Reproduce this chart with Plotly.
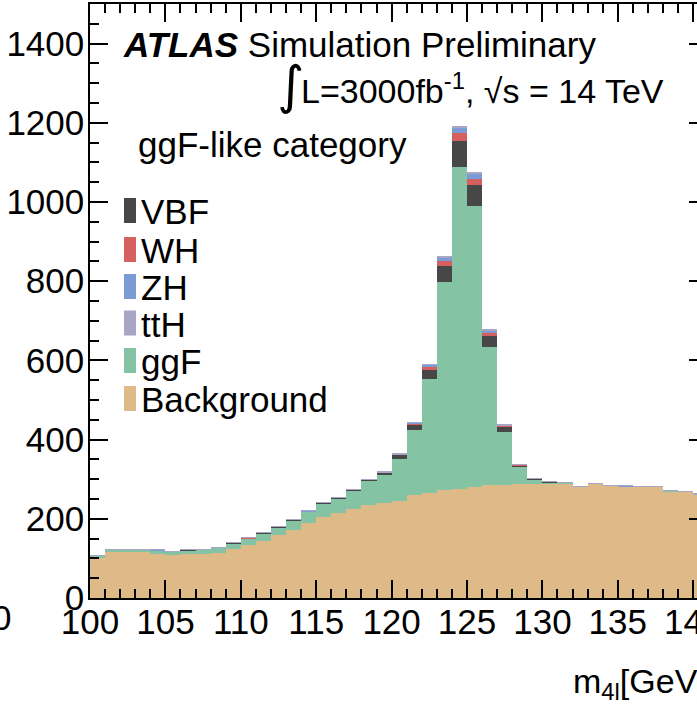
import plotly.graph_objects as go

# ---------------- data ----------------
bin_low = [100, 101, 102, 103, 104, 105, 106, 107, 108, 109,
           110, 111, 112, 113, 114, 115, 116, 117, 118, 119,
           120, 121, 122, 123, 124, 125, 126, 127, 128, 129,
           130, 131, 132, 133, 134, 135, 136, 137, 138, 139, 140]

background = [100, 117, 117, 116, 112, 108, 111, 112, 114, 125,
              134, 145, 158, 171, 189, 204, 215, 224, 236, 239,
              246, 259, 266, 274, 276, 280, 286, 286, 289, 289,
              290, 289, 281, 289, 284, 282, 281, 282, 270, 268, 262]

ggf = [7, 5.5, 4.5, 6.5, 8.5, 9.5, 10, 10.5, 13, 13,
       16.5, 18.5, 20.5, 24.5, 28.5, 35, 37, 47, 60, 74,
       106, 165, 288, 524, 813, 709, 347, 134, 42, 11,
       2.5, 1.5, 0.8, 0.5, 0.5, 0.5, 0.4, 0.4, 0.3, 0.3, 0.3]

vbf = [0.5, 0.5, 0.5, 0.5, 0.5, 0.5, 0.7, 0.7, 0.8, 1,
       1, 1.2, 1.3, 1.5, 1.7, 2, 2.2, 2.5, 3, 4,
       9.6, 14, 21.5, 40.5, 66, 55, 28, 13, 4, 1.5,
       0.5, 0.3, 0.2, 0.2, 0.2, 0.2, 0.1, 0.1, 0.1, 0.1, 0.1]

wh = [0.1, 0.1, 0.1, 0.1, 0.1, 0.1, 0.1, 0.1, 0.1, 0.2,
      0.2, 0.2, 0.2, 0.3, 0.3, 0.3, 0.4, 0.4, 0.5, 0.6,
      1, 3, 7, 12.5, 18, 15, 9, 2, 1, 0.4,
      0.2, 0.1, 0.1, 0.1, 0.1, 0.1, 0.1, 0.1, 0.1, 0.1, 0.1]

zh = [0.1, 0.1, 0.1, 0.1, 0.1, 0.1, 0.1, 0.1, 0.1, 0.1,
      0.1, 0.1, 0.2, 0.2, 0.2, 0.2, 0.3, 0.3, 0.3, 0.4,
      0.8, 1.5, 6, 8.5, 14, 13, 6, 1.5, 0.5, 0.3,
      0.1, 0.1, 0.1, 0.1, 0.1, 0.1, 0.1, 0.1, 0.1, 0.1, 0.1]

tth = [0.05, 0.05, 0.05, 0.05, 0.05, 0.05, 0.05, 0.05, 0.05, 0.05,
       0.05, 0.05, 0.05, 0.1, 0.1, 0.1, 0.1, 0.1, 0.1, 0.2,
       0.3, 0.5, 2, 3, 4, 3, 3, 0.5, 0.3, 0.1,
       0.05, 0.05, 0.05, 0.05, 0.05, 0.05, 0.05, 0.05, 0.05, 0.05, 0.05]

x_ticks = [100, 105, 110, 115, 120, 125, 130, 135, 140]
y_ticks = [0, 200, 400, 600, 800, 1000, 1200, 1400]

# stack order bottom -> top, legend order top -> bottom
stack = [("Background", background, "#DDBA87"),
         ("ggF", ggf, "#85C3A5"),
         ("VBF", vbf, "#474747"),
         ("WH", wh, "#D65F5F"),
         ("ZH", zh, "#7B9BD5"),
         ("ttH", tth, "#A9A5C5")]
legend_order = ["VBF", "WH", "ZH", "ttH", "ggF", "Background"]

# ---------------- layout geometry ----------------
W, H = 697, 710
L, R, T, B = 90, 0, 4, 112
PW, PH = W - L - R, H - T - B
FONT = "Liberation Sans, Arial, Helvetica, sans-serif"


def px(x):
    return (x - L) / PW


def py(y):
    return 1 - (y - T) / PH


centers = [b + 0.5 for b in bin_low]

fig = go.Figure()
for name, vals, col in stack:
    fig.add_trace(go.Bar(x=centers, y=vals, width=1.0, name=name,
                         marker=dict(color=col, line=dict(width=0)),
                         showlegend=False))

# invisible trace to hold the right-side tick axis
fig.add_trace(go.Scatter(x=[100], y=[0], yaxis="y2", mode="markers",
                         marker=dict(opacity=0), showlegend=False,
                         hoverinfo="skip"))

fig.update_layout(
    width=W, height=H, margin=dict(l=L, r=R, t=T, b=B, autoexpand=False),
    barmode="stack", bargap=0,
    paper_bgcolor="white", plot_bgcolor="white",
    font=dict(family=FONT, size=35, color="black"),
    xaxis=dict(range=[100, 100 + PW / 15.08], tickvals=x_ticks,
               ticks="inside", ticklen=18, tickwidth=1.5, tickcolor="black",
               minor=dict(dtick=1, ticks="inside", ticklen=9, tickwidth=1.5,
                          tickcolor="black"),
               showline=True, linecolor="black", linewidth=1.5,
               mirror="ticks", showgrid=False, zeroline=False,
               tickfont=dict(size=35), ticklabeloverflow="allow",
               ticklabelstandoff=-8, automargin=False),
    yaxis=dict(range=[0, 1500], tickvals=y_ticks,
               ticks="inside", ticklen=18, tickwidth=1.5, tickcolor="black",
               minor=dict(dtick=50, ticks="inside", ticklen=9, tickwidth=1.5,
                          tickcolor="black"),
               showline=True, linecolor="black", linewidth=1.5,
               showgrid=False, zeroline=False, tickfont=dict(size=35),
               ticklabeloverflow="allow", ticklabelstandoff=-3,
               automargin=False),
    yaxis2=dict(range=[0, 1500], overlaying="y", side="right",
                tickvals=y_ticks, ticks="inside", ticklen=8, tickwidth=1.5,
                tickcolor="black", showticklabels=False, showline=False,
                showgrid=False, zeroline=False, automargin=False),
)

ann = []
ann.append(dict(x=px(121), y=py(45), xref="paper", yref="paper",
                xanchor="left", yanchor="middle", showarrow=False,
                text="<b><i>ATLAS</i></b> Simulation Preliminary",
                font=dict(size=35)))
ann.append(dict(x=px(275), y=py(85), xref="paper", yref="paper",
                xanchor="left", yanchor="middle", showarrow=False,
                text="∫", font=dict(size=52, family="DejaVu Sans")))
ann.append(dict(x=px(299), y=py(89), xref="paper", yref="paper",
                xanchor="left", yanchor="middle", showarrow=False,
                text="L=3000fb<sup>-1</sup>, √s = 14 TeV",
                font=dict(size=34)))
ann.append(dict(x=px(136), y=py(145), xref="paper", yref="paper",
                xanchor="left", yanchor="middle", showarrow=False,
                text="ggF-like category", font=dict(size=35)))

colors = {n: c for n, _, c in stack}
leg_y = [210.5, 249.5, 286.5, 323, 360.5, 398.5]
shapes = []
for name, yc in zip(legend_order, leg_y):
    shapes.append(dict(type="rect", xref="paper", yref="paper",
                       x0=px(124), x1=px(136), y0=py(yc + 12.5), y1=py(yc - 12.5),
                       fillcolor=colors[name], line=dict(width=0)))
    ann.append(dict(x=px(139), y=py(yc + 1), xref="paper", yref="paper",
                    xanchor="left", yanchor="middle", showarrow=False,
                    text=name, font=dict(size=35)))

ann.append(dict(x=px(571), y=py(683), xref="paper", yref="paper",
                xanchor="left", yanchor="middle", showarrow=False,
                text="m<sub>4l</sub>[GeV]", font=dict(size=34)))
ann.append(dict(x=px(13), y=py(617), xref="paper", yref="paper",
                xanchor="right", yanchor="middle", showarrow=False,
                text="0", font=dict(size=35)))

fig.update_layout(annotations=ann, shapes=shapes)
fig.write_html("out.html",
               config={"displayModeBar": False},
               post_script="document.body.style.margin='0';"
                           "document.body.style.overflow='hidden';")
